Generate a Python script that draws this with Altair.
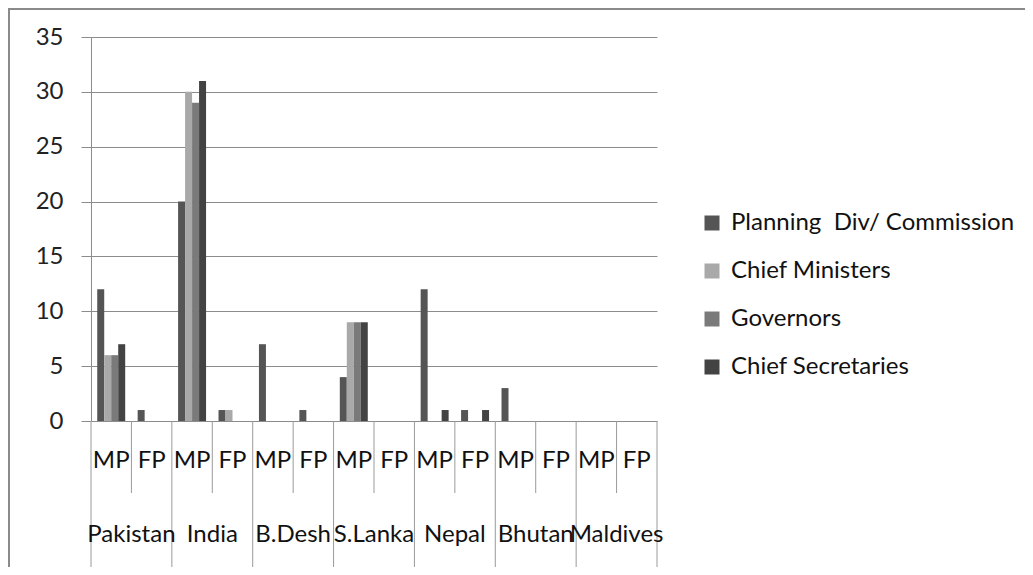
import altair as alt
import pandas as pd

countries = ["Pakistan", "India", "B.Desh", "S.Lanka", "Nepal", "Bhutan", "Maldives"]
levels = ["MP", "FP"]
series = ["Planning\u00a0 Div/ Commission", "Chief Ministers", "Governors", "Chief Secretaries"]
planning = [12, 1, 20, 1, 7, 1, 4, 0, 12, 1, 3, 0, 0, 0]
chief_ministers = [6, 0, 30, 1, 0, 0, 9, 0, 0, 0, 0, 0, 0, 0]
governors = [6, 0, 29, 0, 0, 0, 9, 0, 0, 0, 0, 0, 0, 0]
chief_secretaries = [7, 0, 31, 0, 0, 0, 9, 0, 1, 1, 0, 0, 0, 0]
y_ticks = [0, 5, 10, 15, 20, 25, 30, 35]
colors = ["#555555", "#a9a9a9", "#7a7a7a", "#434343"]

FONT = "Lato"
W, H = 566, 384

slots = [f"{c}|{l}" for c in countries for l in levels]
rows = []
for name, vals in zip(series, [planning, chief_ministers, governors, chief_secretaries]):
    for s, v in zip(slots, vals):
        rows.append({"slot": s, "series": name, "value": v})
df = pd.DataFrame(rows)

slot_df = pd.DataFrame({
    "slot": slots,
    "country": [c for c in countries for l in levels],
    "level": [l for c in countries for l in levels],
})

xscale = alt.Scale(domain=slots, paddingInner=0, paddingOuter=0)

bars = alt.Chart(df).mark_bar().encode(
    x=alt.X("slot:N", scale=xscale, axis=None, sort=slots),
    xOffset=alt.XOffset("series:N", scale=alt.Scale(domain=series, paddingInner=0, paddingOuter=0.89)),
    y=alt.Y("value:Q", scale=alt.Scale(domain=[0, 35], nice=False),
            axis=alt.Axis(values=y_ticks, title=None, grid=True,
                          domainColor="#8c8c8c", tickColor="#8c8c8c", tickSize=10, labelPadding=18,
                          labelFontSize=24, labelFont=FONT, labelColor="#222222", gridColor="#8c8c8c",
                          gridWidth=1, domainWidth=1, tickWidth=1)),
    color=alt.Color("series:N", scale=alt.Scale(domain=series, range=colors),
                    legend=alt.Legend(title=None, orient="none", legendX=609, legendY=174,
                                      symbolType="square", symbolSize=225, symbolStrokeWidth=0,
                                      labelFontSize=24, labelFont=FONT, labelColor="#111111",
                                      rowPadding=24, labelOffset=7, padding=0, labelLimit=400)),
)

base = alt.Chart(slot_df)

level_sep = base.transform_filter(alt.datum.level == "FP").mark_rule(color="#9a9a9a", strokeWidth=1).encode(
    x=alt.X("slot:N", scale=xscale, axis=None, bandPosition=0),
    y=alt.value(H), y2=alt.value(H + 72),
)
country_sep = base.transform_filter(alt.datum.level == "MP").mark_rule(color="#9a9a9a", strokeWidth=1).encode(
    x=alt.X("slot:N", scale=xscale, axis=None, bandPosition=0),
    y=alt.value(H), y2=alt.value(H + 147),
)
end_sep = base.transform_filter(alt.datum.slot == slots[-1]).mark_rule(color="#9a9a9a", strokeWidth=1).encode(
    x=alt.X("slot:N", scale=xscale, axis=None, bandPosition=1),
    y=alt.value(H), y2=alt.value(H + 147),
)
level_text = base.mark_text(font=FONT, fontSize=24, color="#111111", baseline="middle").encode(
    x=alt.X("slot:N", scale=xscale, axis=None),
    y=alt.value(H + 40),
    text="level:N",
)
country_text = base.transform_filter(alt.datum.level == "MP").mark_text(
    font=FONT, fontSize=24, color="#111111", baseline="middle").encode(
    x=alt.X("slot:N", scale=xscale, axis=None, bandPosition=1),
    y=alt.value(H + 114),
    text="country:N",
)

frame_df = pd.DataFrame({"k": [0]})
top_border = alt.Chart(frame_df).mark_rule(color="#8a8a8a", strokeWidth=2).encode(
    x=alt.value(-83), x2=alt.value(W + 368), y=alt.value(-28))
left_border = alt.Chart(frame_df).mark_rule(color="#8a8a8a", strokeWidth=2).encode(
    x=alt.value(-82), y=alt.value(-29), y2=alt.value(H + 146))

chart = alt.layer(bars, level_sep, country_sep, end_sep, level_text, country_text,
                  top_border, left_border).properties(
    width=W, height=H,
    autosize=alt.AutoSizeParams(type="none"),
    padding={"left": 83, "top": 29, "right": 368, "bottom": 146},
    background="white",
).configure_view(stroke=None)

chart.save("out.html", embed_options={"renderer": "svg", "actions": False})
